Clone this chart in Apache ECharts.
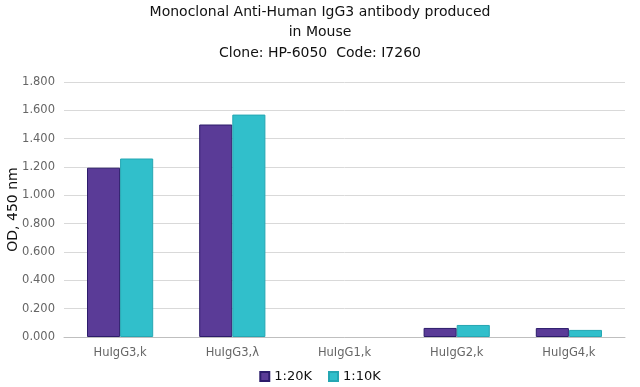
<!DOCTYPE html>
<html><head><meta charset="utf-8">
<script src="https://cdn.jsdelivr.net/npm/echarts@6/dist/echarts.min.js"></script>
<style>html,body{margin:0;padding:0;background:#fff}#c{width:640px;height:387px}</style>
</head><body><div id="c"></div>
<script>
const categories = ['HuIgG3,k', 'HuIgG3,\u03bb', 'HuIgG1,k', 'HuIgG2,k', 'HuIgG4,k'];
const s20K = [1.195, 1.500, 0.000, 0.064, 0.063];
const s10K = [1.260, 1.570, 0.000, 0.085, 0.050];
const seriesNames = ['1:20K', '1:10K'];
const titleText = 'Monoclonal Anti-Human IgG3 antibody produced\nin Mouse\nClone: HP-6050  Code: I7260';
const yName = 'OD, 450 nm';

const font = '"DejaVu Sans"';
const toData = arr => arr.map(v => v === 0 ? {value: v, itemStyle: {borderWidth: 0}} : v);
const chart = echarts.init(document.getElementById('c'));
chart.setOption({
  animation: false,
  title: {
    text: titleText, left: 'center', top: -3,
    textStyle: {fontFamily: font, fontSize: 14, fontWeight: 'normal', color: '#111', lineHeight: 20.5}
  },
  legend: {
    data: seriesNames, bottom: -1, left: 'center', icon: 'rect', itemWidth: 9, itemHeight: 9, itemGap: 16,
    textStyle: {fontFamily: font, fontSize: 13, color: '#111'}
  },
  grid: {left: 64, right: 15, top: 82, bottom: 50, containLabel: false, outerBoundsMode: 'none'},
  xAxis: {
    type: 'category', data: categories,
    axisLine: {lineStyle: {color: '#bfbfbf'}}, axisTick: {show: false},
    axisLabel: {fontFamily: font, fontSize: 11.5, color: '#666', margin: 10}
  },
  yAxis: {
    type: 'value', min: 0, max: 1.8, interval: 0.2,
    name: yName, nameLocation: 'middle', nameGap: 44, nameRotate: 90, nameMoveOverlap: false,
    nameTextStyle: {fontFamily: font, fontSize: 14, color: '#111'},
    axisLine: {show: false}, axisTick: {show: false},
    axisLabel: {fontFamily: font, fontSize: 11.5, color: '#666', margin: 9, formatter: v => v.toFixed(3)},
    splitLine: {lineStyle: {color: '#d9d9d9'}}
  },
  series: [
    {name: seriesNames[0], type: 'bar', data: toData(s20K), barGap: '0%', barCategoryGap: '41%',
     itemStyle: {color: '#5a3b97', borderColor: '#2c1c6b', borderWidth: 1}},
    {name: seriesNames[1], type: 'bar', data: toData(s10K), barGap: '0%', barCategoryGap: '41%',
     itemStyle: {color: '#31bfcb', borderColor: '#25a7b3', borderWidth: 1}}
  ]
});
</script></body></html>
